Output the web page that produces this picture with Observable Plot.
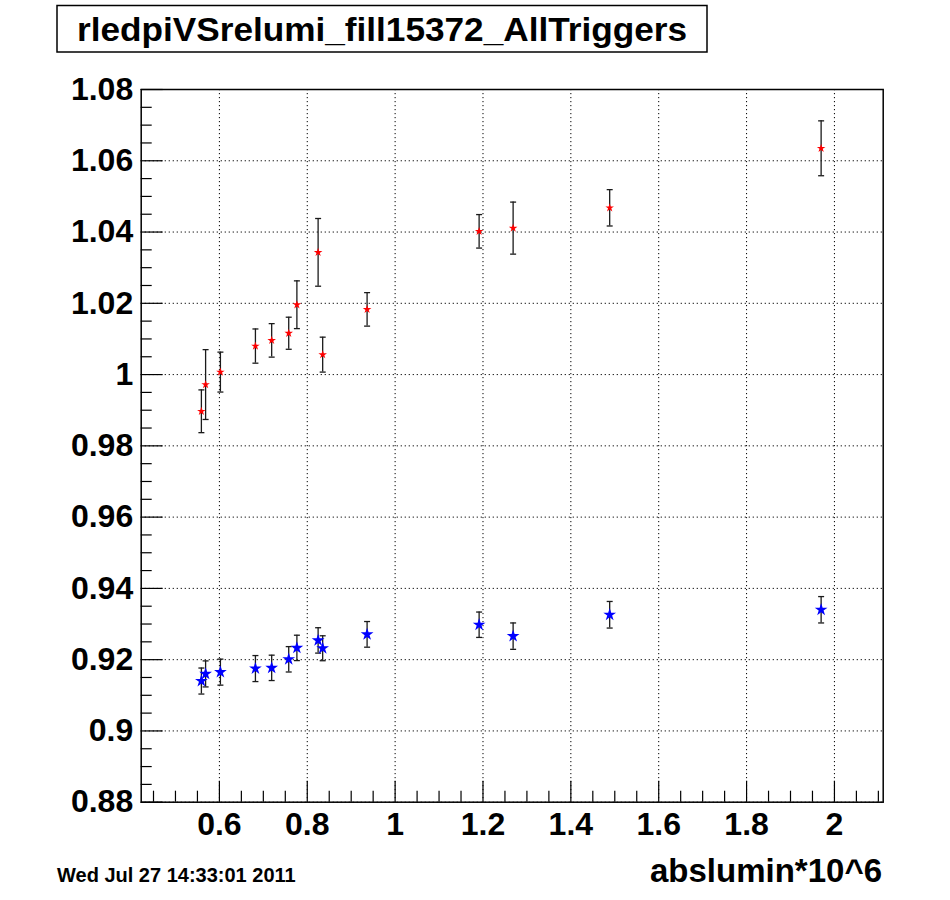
<!DOCTYPE html>
<html>
<head>
<meta charset="utf-8">
<script src="https://cdn.jsdelivr.net/npm/d3@7"></script>
<script src="https://cdn.jsdelivr.net/npm/@observablehq/plot@0.6"></script>
<style>
  html, body { margin: 0; padding: 0; background: #fff; }
  #wrap { position: relative; width: 950px; height: 900px; font-family: "Liberation Sans", Arial, Helvetica, sans-serif; font-weight: bold; }
  #chart { position: absolute; left: 0; top: 0; }
  #over { position: absolute; left: 0; top: 0; pointer-events: none; }
</style>
</head>
<body>
<div id="wrap">
  <div id="chart"></div>
  <svg id="over" width="950" height="900"></svg>
</div>
<script>
// ---- data ----
const titleText = "rledpiVSrelumi_fill15372_AllTriggers";
const dateText = "Wed Jul 27 14:33:01 2011";
const xTitle = "abslumin*10^6";

const lumi = [0.559, 0.5686, 0.6023, 0.682, 0.719, 0.7578, 0.7764, 0.8247, 0.8351, 0.9362, 1.1912, 1.2686, 1.4884, 1.9697];
const redVal = [0.9897, 0.9972, 1.0007, 1.0080, 1.0096, 1.0116, 1.0196, 1.0343, 1.0056, 1.0183, 1.0402, 1.0411, 1.0468, 1.0635];
const redErr = [0.0060, 0.0098, 0.0056, 0.0048, 0.0047, 0.0045, 0.0067, 0.0095, 0.0049, 0.0047, 0.0047, 0.0073, 0.0051, 0.0077];
const blueVal = [0.9140, 0.9160, 0.9165, 0.9175, 0.9177, 0.9201, 0.9233, 0.9254, 0.9232, 0.9271, 0.9298, 0.9266, 0.9326, 0.9340];
const blueErr = [0.00365, 0.00365, 0.00365, 0.00365, 0.00356, 0.00356, 0.00356, 0.00356, 0.0035, 0.0036, 0.00356, 0.0037, 0.00373, 0.0037];

const xTicks = [0.6, 0.8, 1.0, 1.2, 1.4, 1.6, 1.8, 2.0];
const xTickLabels = ["0.6", "0.8", "1", "1.2", "1.4", "1.6", "1.8", "2"];
const yTicks = [0.88, 0.90, 0.92, 0.94, 0.96, 0.98, 1.00, 1.02, 1.04, 1.06, 1.08];
const yTickLabels = ["0.88", "0.9", "0.92", "0.94", "0.96", "0.98", "1", "1.02", "1.04", "1.06", "1.08"];

const xDomain = [0.422, 2.111];
const yDomain = [0.88, 1.08];

// ---- build tables ----
const red = lumi.map((x, i) => ({x, y: redVal[i], e: redErr[i]}));
const blue = lumi.map((x, i) => ({x, y: blueVal[i], e: blueErr[i]}));
const both = red.concat(blue);

const W = 950, H = 900;
const mL = 140.7, mR = 67.3, mT = 89, mB = 98.3;
const innerW = W - mL - mR, innerH = H - mT - mB;

// minor ticks (axis subdivisions)
const xMinor = d3.range(Math.round(xDomain[0] / 0.05), Math.round(xDomain[1] / 0.05) + 1)
  .map(k => +(k * 0.05).toFixed(3))
  .filter(v => v >= xDomain[0] && v <= xDomain[1] && !xTicks.some(t => Math.abs(t - v) < 1e-6));
const yMinor = d3.range(Math.round(yDomain[0] / 0.005), Math.round(yDomain[1] / 0.005) + 1)
  .map(k => +(k * 0.005).toFixed(4))
  .filter(v => !yTicks.some(t => Math.abs(t - v) < 1e-6));

const capSymbol = { draw(ctx) { ctx.moveTo(-3, 0); ctx.lineTo(3, 0); } };
const barColor = "#1a1a1a";

const plot = Plot.plot({
  width: W,
  height: H,
  marginLeft: mL,
  marginRight: mR,
  marginTop: mT,
  marginBottom: mB,
  style: { fontFamily: "'Liberation Sans', Arial, Helvetica, sans-serif", fontWeight: "bold", background: "#fff", color: "#000" },
  x: { domain: xDomain },
  y: { domain: yDomain },
  marks: [
    // dotted grid at major ticks
    Plot.ruleX(xTicks, { x: d => d, stroke: "#000", strokeWidth: 1, strokeDasharray: "1.2,2.8" }),
    Plot.ruleY(yTicks, { y: d => d, stroke: "#000", strokeWidth: 1, strokeDasharray: "1.2,2.8" }),
    // inward ticks
    Plot.ruleX(xTicks, { x: d => d, insetTop: innerH - 21, stroke: "#000", strokeWidth: 1.2 }),
    Plot.ruleX(xMinor, { x: d => d, insetTop: innerH - 11, stroke: "#000", strokeWidth: 1.2 }),
    Plot.ruleY(yTicks, { y: d => d, insetRight: innerW - 22, stroke: "#000", strokeWidth: 1.2 }),
    Plot.ruleY(yMinor, { y: d => d, insetRight: innerW - 11, stroke: "#000", strokeWidth: 1.2 }),
    Plot.frame({ stroke: "#000", strokeWidth: 1.5 }),
    // axes labels
    Plot.axisX({ ticks: xTicks, tickSize: 0, tickPadding: 10, fontSize: 32, fontWeight: "bold",
      tickFormat: d => xTickLabels[xTicks.findIndex(t => Math.abs(t - d) < 1e-9)], label: null }),
    Plot.axisY({ ticks: yTicks, tickSize: 0, tickPadding: 8, fontSize: 32, fontWeight: "bold",
      tickFormat: d => yTickLabels[yTicks.findIndex(t => Math.abs(t - d) < 1e-9)], label: null }),
    // error bars
    Plot.ruleX(both, { x: "x", y1: d => d.y - d.e, y2: d => d.y + d.e, stroke: barColor, strokeWidth: 1.3 }),
    Plot.dot(both, { x: "x", y: d => d.y - d.e, symbol: capSymbol, r: 3, fill: "none", stroke: barColor, strokeWidth: 1.3 }),
    Plot.dot(both, { x: "x", y: d => d.y + d.e, symbol: capSymbol, r: 3, fill: "none", stroke: barColor, strokeWidth: 1.3 }),
    // markers
    Plot.dot(red, { x: "x", y: "y", symbol: "star", r: 2.7, fill: "#ff0000", stroke: "none" }),
    Plot.dot(blue, { x: "x", y: "y", symbol: "star", r: 4.0, fill: "#0000ff", stroke: "none" })
  ]
});
document.getElementById("chart").appendChild(plot);

// ---- title box, date and axis title ----
const over = d3.select("#over");
over.append("rect").attr("x", 57).attr("y", 5.5).attr("width", 650).attr("height", 46.5)
  .attr("fill", "#fff").attr("stroke", "#000").attr("stroke-width", 1.5);
over.append("text").attr("x", 382).attr("y", 41).attr("text-anchor", "middle")
  .attr("font-family", "'Liberation Sans', Arial, sans-serif").attr("font-weight", "bold")
  .attr("font-size", 33).attr("textLength", 610).attr("lengthAdjust", "spacingAndGlyphs")
  .text(titleText);
over.append("text").attr("x", 57).attr("y", 882).attr("text-anchor", "start")
  .attr("font-family", "'Liberation Sans', Arial, sans-serif").attr("font-weight", "bold")
  .attr("font-size", 20).text(dateText);
over.append("text").attr("x", 882).attr("y", 882).attr("text-anchor", "end")
  .attr("font-family", "'Liberation Sans', Arial, sans-serif").attr("font-weight", "bold")
  .attr("font-size", 33).text(xTitle);
</script>
</body>
</html>
